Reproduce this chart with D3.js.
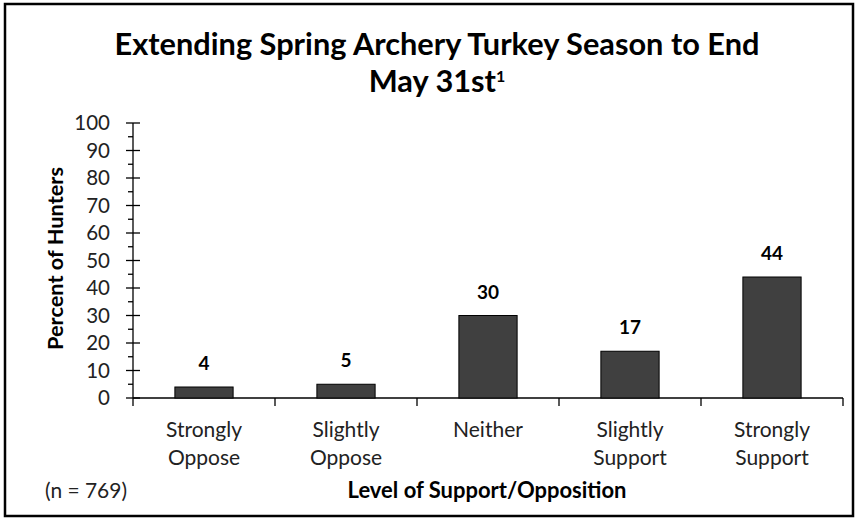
<!DOCTYPE html>
<html>
<head>
<meta charset="utf-8">
<script src="https://cdn.jsdelivr.net/npm/d3@7"></script>
<style>
  body { margin: 0; background: #fff; }
  text { font-family: Lato, "Open Sans", sans-serif; }
</style>
</head>
<body>
<svg id="chart" width="860" height="519"></svg>
<script>
// data
const categories = [['Strongly', 'Oppose'], ['Slightly', 'Oppose'], ['Neither'], ['Slightly', 'Support'], ['Strongly', 'Support']];
const percents = [4, 5, 30, 17, 44];
const yTicks = [0, 10, 20, 30, 40, 50, 60, 70, 80, 90, 100];
const yMinorTicks = [5, 15, 25, 35, 45, 55, 65, 75, 85, 95];
const titleLines = ['Extending Spring Archery Turkey Season to End', 'May 31st'];
const sampleNote = '(n = 769)';

const svg = d3.select('#chart');
const margin = { top: 123, left: 133, right: 17, bottom: 121 };
const W = 860, H = 519;
const plotW = W - margin.left - margin.right;
const plotH = H - margin.top - margin.bottom;

// set a font size so text fills a given width
function fit(sel, w) {
  const len = sel.node().getComputedTextLength();
  const fs = parseFloat(sel.attr('font-size'));
  sel.attr('font-size', (fs * w / len).toFixed(2));
}

// frame
svg.append('rect')
  .attr('x', 5).attr('y', 4)
  .attr('width', 848).attr('height', 512)
  .attr('fill', 'none').attr('stroke', '#000').attr('stroke-width', 2.5);

// title
const t1 = svg.append('text')
  .attr('x', 437).attr('y', 55)
  .attr('text-anchor', 'middle').attr('font-weight', 'bold').attr('font-size', 26)
  .attr('fill', '#000')
  .text(titleLines[0]);
fit(t1, 645);
const t2 = svg.append('text')
  .attr('x', 437).attr('y', 92)
  .attr('text-anchor', 'middle').attr('font-weight', 'bold').attr('font-size', t1.attr('font-size'))
  .attr('fill', '#000');
t2.append('tspan').text(titleLines[1]);
t2.append('tspan').attr('dy', -10).attr('font-size', 16).text('1');

const g = svg.append('g').attr('transform', `translate(${margin.left},${margin.top})`);

const x = d3.scaleBand()
  .domain(d3.range(categories.length))
  .range([0, plotW])
  .paddingInner(0.59)
  .paddingOuter(0.295);

const y = d3.scaleLinear().domain([0, 100]).range([plotH, 0]);

// y axis: line + major ticks crossing, minor ticks outside
g.append('line')
  .attr('x1', 0).attr('x2', 0).attr('y1', y(100)).attr('y2', y(0))
  .attr('stroke', '#000').attr('stroke-width', 1.3);
g.selectAll('.ymaj').data(yTicks).join('line')
  .attr('class', 'ymaj')
  .attr('x1', -7).attr('x2', 7)
  .attr('y1', d => y(d)).attr('y2', d => y(d))
  .attr('stroke', '#000').attr('stroke-width', 1.3);
g.selectAll('.ymin').data(yMinorTicks).join('line')
  .attr('class', 'ymin')
  .attr('x1', -5).attr('x2', 0)
  .attr('y1', d => y(d)).attr('y2', d => y(d))
  .attr('stroke', '#000').attr('stroke-width', 1.3);
g.selectAll('.ylab').data(yTicks).join('text')
  .attr('class', 'ylab')
  .attr('x', -23).attr('y', d => y(d))
  .attr('dy', '0.36em')
  .attr('text-anchor', 'end')
  .attr('font-size', 20.5)
  .attr('fill', '#222')
  .text(d => d);

// x axis: baseline + ticks at band edges
g.append('line')
  .attr('x1', 0).attr('x2', plotW).attr('y1', plotH).attr('y2', plotH)
  .attr('stroke', '#000').attr('stroke-width', 1.3);
const edges = d3.range(categories.length + 1).map(i => i * plotW / categories.length);
g.selectAll('.xtick').data(edges).join('line')
  .attr('class', 'xtick')
  .attr('x1', d => d).attr('x2', d => d)
  .attr('y1', plotH).attr('y2', plotH + 8)
  .attr('stroke', '#000').attr('stroke-width', 1.3);

// bars
g.selectAll('.bar').data(percents).join('rect')
  .attr('class', 'bar')
  .attr('x', (d, i) => x(i))
  .attr('width', x.bandwidth())
  .attr('y', d => y(d))
  .attr('height', d => y(0) - y(d))
  .attr('fill', '#404040')
  .attr('stroke', '#000')
  .attr('stroke-width', 1);

// value labels
g.selectAll('.val').data(percents).join('text')
  .attr('class', 'val')
  .attr('x', (d, i) => x(i) + x.bandwidth() / 2)
  .attr('y', d => y(d) - 17)
  .attr('text-anchor', 'middle')
  .attr('font-weight', 'bold')
  .attr('font-size', 19)
  .attr('fill', '#000')
  .text(d => d);

// category labels
const cat = g.selectAll('.cat').data(categories).join('text')
  .attr('class', 'cat')
  .attr('text-anchor', 'middle')
  .attr('font-size', 21)
  .attr('fill', '#222');
cat.selectAll('tspan').data((d, i) => d.map(s => ({ s, i }))).join('tspan')
  .attr('x', d => x(d.i) + x.bandwidth() / 2)
  .attr('y', (d, j) => plotH + 39 + j * 28)
  .text(d => d.s);

// axis titles
const xTitle = g.append('text')
  .attr('x', plotW / 2 - 1).attr('y', plotH + 100)
  .attr('text-anchor', 'middle')
  .attr('font-weight', 'bold')
  .attr('font-size', 18)
  .attr('fill', '#000')
  .text('Level of Support/Opposition');
fit(xTitle, 279);

const yTitle = g.append('text')
  .attr('transform', `translate(${55 - margin.left},${(167 + 350) / 2 - margin.top}) rotate(-90)`)
  .attr('dy', '0.35em')
  .attr('text-anchor', 'middle')
  .attr('font-weight', 'bold')
  .attr('font-size', 17)
  .attr('fill', '#000')
  .text('Percent of Hunters');
fit(yTitle, 183);

const note = svg.append('text')
  .attr('x', 45).attr('y', margin.top + plotH + 100)
  .attr('font-size', 19)
  .attr('fill', '#222')
  .text(sampleNote);
fit(note, 82);
</script>
</body>
</html>
